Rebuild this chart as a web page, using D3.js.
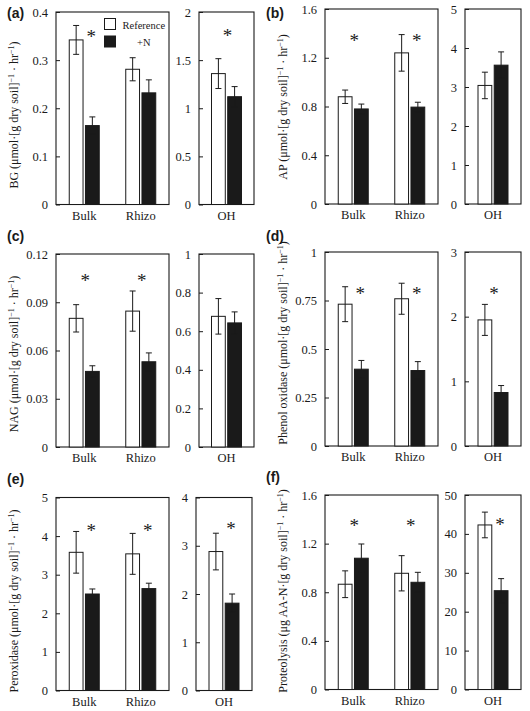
<!DOCTYPE html>
<html><head><meta charset="utf-8">
<script src="https://cdn.jsdelivr.net/npm/d3@7"></script>
<style>body{margin:0;background:#fff} svg{display:block}</style>
</head><body><svg id="c" width="530" height="711"></svg>
<script>
// ---------- DATA ----------
const groups = ["Bulk", "Rhizo"];
const ohGroups = ["OH"];
const series = ["Reference", "+N"];

// (a) BG
const bgRef = [0.342, 0.281], bgRefErr = [0.030, 0.024];
const bgN = [0.164, 0.232], bgNErr = [0.018, 0.027];
const bgOH = [1.36, 1.12], bgOHErr = [0.155, 0.105];          // [Reference, +N]
const bgTicks = [0, 0.1, 0.2, 0.3, 0.4], bgOHTicks = [0, 0.5, 1, 1.5, 2];
const bgSig = [["Bulk", 0.354, "n"]], bgOHSig = [["OH", 1.78, "m"]];

// (b) AP
const apRef = [0.88, 1.24], apRefErr = [0.055, 0.15];
const apN = [0.78, 0.795], apNErr = [0.04, 0.04];
const apOH = [3.04, 3.56], apOHErr = [0.34, 0.34];
const apTicks = [0, 0.4, 0.8, 1.2, 1.6], apOHTicks = [0, 1, 2, 3, 4, 5];
const apSig = [["Bulk", 1.36, "m"], ["Rhizo", 1.36, "n"]], apOHSig = [];

// (c) NAG
const nagRef = [0.080, 0.0845], nagRefErr = [0.0085, 0.0125];
const nagN = [0.047, 0.053], nagNErr = [0.0035, 0.0055];
const nagOH = [0.677, 0.643], nagOHErr = [0.092, 0.057];
const nagTicks = [0, 0.03, 0.06, 0.09, 0.12], nagOHTicks = [0, 0.2, 0.4, 0.6, 0.8, 1];
const nagSig = [["Bulk", 0.105, "m"], ["Rhizo", 0.105, "m"]], nagOHSig = [];

// (d) Phenol oxidase
const phRef = [0.731, 0.759], phRefErr = [0.09, 0.08];
const phN = [0.396, 0.389], phNErr = [0.045, 0.046];
const phOH = [1.95, 0.827], phOHErr = [0.24, 0.108];
const phTicks = [0, 0.25, 0.5, 0.75, 1], phOHTicks = [0, 1, 2, 3];
const phSig = [["Bulk", 0.80, "n"], ["Rhizo", 0.80, "n"]], phOHSig = [["OH", 2.39, "m"]];

// (e) Peroxidase
const peRef = [3.58, 3.54], peRefErr = [0.54, 0.53];
const peN = [2.50, 2.64], peNErr = [0.13, 0.14];
const peOH = [2.88, 1.81], peOHErr = [0.38, 0.19];
const peTicks = [0, 1, 2, 3, 4, 5], peOHTicks = [0, 1, 2, 3, 4];
const peSig = [["Bulk", 4.2, "n"], ["Rhizo", 4.2, "n"]], peOHSig = [["OH", 3.4, "n"]];

// (f) Proteolysis
const prRef = [0.866, 0.956], prRefErr = [0.11, 0.145];
const prN = [1.08, 0.882], prNErr = [0.117, 0.082];
const prOH = [42.3, 25.4], prOHErr = [3.3, 3.1];
const prTicks = [0, 0.4, 0.8, 1.2, 1.6], prOHTicks = [0, 10, 20, 30, 40, 50];
const prSig = [["Bulk", 1.37, "m"], ["Rhizo", 1.37, "m"]], prOHSig = [["OH", 43, "n"]];

const labelPrefixes = {
  a: "BG (μmol·[g dry soil]", b: "AP (μmol·[g dry soil]", c: "NAG (μmol·[g dry soil]",
  d: "Phenol oxidase (μmol·[g dry soil]", e: "Peroxidase (μmol·[g dry soil]",
  f: "Proteolysis (μg AA-N·[g dry soil]"
};

// ---------- LAYOUT ----------
const panels = [
  {id:"a", ref:bgRef, refErr:bgRefErr, n:bgN, nErr:bgNErr, oh:bgOH, ohErr:bgOHErr, ticks:bgTicks, ohTicks:bgOHTicks, sig:bgSig, ohSig:bgOHSig,
   mx:[56,169], ox:[199,254], yr:[204.5,12], letter:[7,18], lab:[18,115], legend:true},
  {id:"b", ref:apRef, refErr:apRefErr, n:apN, nErr:apNErr, oh:apOH, ohErr:apOHErr, ticks:apTicks, ohTicks:apOHTicks, sig:apSig, ohSig:apOHSig,
   mx:[325,438], ox:[465,521], yr:[204,9], letter:[266,18], lab:[287,107]},
  {id:"c", ref:nagRef, refErr:nagRefErr, n:nagN, nErr:nagNErr, oh:nagOH, ohErr:nagOHErr, ticks:nagTicks, ohTicks:nagOHTicks, sig:nagSig, ohSig:nagOHSig,
   mx:[56,169], ox:[199,254], yr:[447,254], letter:[7,241], lab:[18,354]},
  {id:"d", ref:phRef, refErr:phRefErr, n:phN, nErr:phNErr, oh:phOH, ohErr:phOHErr, ticks:phTicks, ohTicks:phOHTicks, sig:phSig, ohSig:phOHSig,
   mx:[325,438], ox:[465,521], yr:[446,252], letter:[266,241], lab:[287,343]},
  {id:"e", ref:peRef, refErr:peRefErr, n:peN, nErr:peNErr, oh:peOH, ohErr:peOHErr, ticks:peTicks, ohTicks:peOHTicks, sig:peSig, ohSig:peOHSig,
   mx:[56,169], ox:[196,252], yr:[690.5,497.5], letter:[7,484], lab:[18,601]},
  {id:"f", ref:prRef, refErr:prRefErr, n:prN, nErr:prNErr, oh:prOH, ohErr:prOHErr, ticks:prTicks, ohTicks:prOHTicks, sig:prSig, ohSig:prOHSig,
   mx:[325,438], ox:[465,521], yr:[689.5,495], letter:[266,482], lab:[287,591]}
];

const svg = d3.select("#c");
const SERIF = "'Liberation Serif','Times New Roman',serif";
const ink = "#1a1a1a";
const fills = {"Reference":"#ffffff", "+N":"#1a1a1a"};
const inner = d3.scaleBand().domain(series).range([-15, 15]).paddingInner(0.15);

function drawSub(g, xr, yr, cats, vals, ticks, sig) {
  // vals: [{g, s, v, e}]
  const y = d3.scaleLinear().domain([0, ticks[ticks.length-1]]).range(yr);
  const x = d3.scaleBand().domain(cats).range(xr);
  const cx = c => x(c) + x.bandwidth()/2;

  g.append("rect").attr("x", xr[0]).attr("y", yr[1]).attr("width", xr[1]-xr[0]).attr("height", yr[0]-yr[1])
    .attr("fill","none").attr("stroke", ink).attr("stroke-width", 1.1);

  const ax = g.append("g").attr("transform", `translate(${xr[0]},0)`)
    .call(d3.axisLeft(y).tickValues(ticks).tickSize(-4).tickPadding(8).tickFormat(d => String(d)));
  ax.select(".domain").remove();
  ax.selectAll("line").attr("stroke", ink);
  ax.selectAll("text").attr("font-family", SERIF).attr("font-size", 12.5).attr("fill", ink);

  g.selectAll("rect.bar").data(vals).join("rect").attr("class","bar")
    .attr("x", d => cx(d.g) + inner(d.s)).attr("width", inner.bandwidth())
    .attr("y", d => y(d.v)).attr("height", d => y(0) - y(d.v))
    .attr("fill", d => fills[d.s]).attr("stroke", ink).attr("stroke-width", 1);

  const eb = g.selectAll("g.eb").data(vals).join("g").attr("class","eb")
    .attr("stroke", ink).attr("stroke-width", 1);
  const ex = d => cx(d.g) + inner(d.s) + inner.bandwidth()/2;
  eb.append("line").attr("x1", ex).attr("x2", ex).attr("y1", d => y(d.v + d.e)).attr("y2", d => y(d.v - d.e));
  eb.append("line").attr("x1", d => ex(d) - 3).attr("x2", d => ex(d) + 3).attr("y1", d => y(d.v + d.e)).attr("y2", d => y(d.v + d.e));
  eb.append("line").attr("x1", d => ex(d) - 3).attr("x2", d => ex(d) + 3).attr("y1", d => y(d.v - d.e)).attr("y2", d => y(d.v - d.e));

  // category labels
  g.selectAll("text.cat").data(cats).join("text").attr("class","cat")
    .attr("x", cx).attr("y", yr[0] + 15).attr("text-anchor","middle")
    .attr("font-family", SERIF).attr("font-size", 12.5).attr("fill", ink).text(d => d);

  // significance asterisks
  g.selectAll("text.sig").data(sig).join("text").attr("class","sig")
    .attr("x", d => d[2] === "n" ? cx(d[0]) + inner("+N") + inner.bandwidth()/2 - 1 : cx(d[0]) + 1)
    .attr("y", d => y(d[1]) + 9).attr("text-anchor","middle")
    .attr("font-family", SERIF).attr("font-size", 19).attr("fill", ink).text("*");
}

panels.forEach(p => {
  const g = svg.append("g");
  const mainVals = [];
  groups.forEach((gr, i) => {
    mainVals.push({g: gr, s: series[0], v: p.ref[i], e: p.refErr[i]});
    mainVals.push({g: gr, s: series[1], v: p.n[i], e: p.nErr[i]});
  });
  const ohVals = series.map((s, i) => ({g: ohGroups[0], s, v: p.oh[i], e: p.ohErr[i]}));
  drawSub(g.append("g"), p.mx, p.yr, groups, mainVals, p.ticks, p.sig);
  drawSub(g.append("g"), p.ox, p.yr, ohGroups, ohVals, p.ohTicks, p.ohSig);

  // panel letter
  g.append("text").attr("x", p.letter[0]).attr("y", p.letter[1])
    .attr("font-family","'Liberation Sans',Arial,sans-serif").attr("font-weight","bold")
    .attr("font-size", 14).attr("fill", ink).text(`(${p.id})`);

  // y label
  const t = g.append("text").attr("transform", `translate(${p.lab[0]},${p.lab[1]}) rotate(-90)`)
    .attr("text-anchor","middle").attr("font-family", SERIF).attr("font-size", 12).attr("fill", ink);
  const parts = [[labelPrefixes[p.id], 0], ["−1", 1], [" · hr", 0], ["−1", 1], [")", 0]];
  let up = false;
  parts.forEach(([txt, sup]) => {
    const ts = t.append("tspan").text(txt);
    if (sup && !up) { ts.attr("dy", -4.5).attr("font-size", 8); up = true; }
    else if (!sup && up) { ts.attr("dy", 4.5); up = false; }
  });

  if (p.legend) {
    const lg = g.append("g");
    series.forEach((s, i) => {
      lg.append("rect").attr("x", 104.5).attr("y", 18.5 + i*17.5).attr("width", 11).attr("height", 11)
        .attr("fill", fills[s]).attr("stroke", ink).attr("stroke-width", 1);
    });
    lg.append("text").attr("x", 122.5).attr("y", 28.5).attr("font-family", SERIF).attr("font-size", 10.5).attr("fill", ink).text(series[0]);
    lg.append("text").attr("x", 137).attr("y", 46).attr("font-family", SERIF).attr("font-size", 10.5).attr("fill", ink).text(series[1]);
  }
});
</script></body></html>
